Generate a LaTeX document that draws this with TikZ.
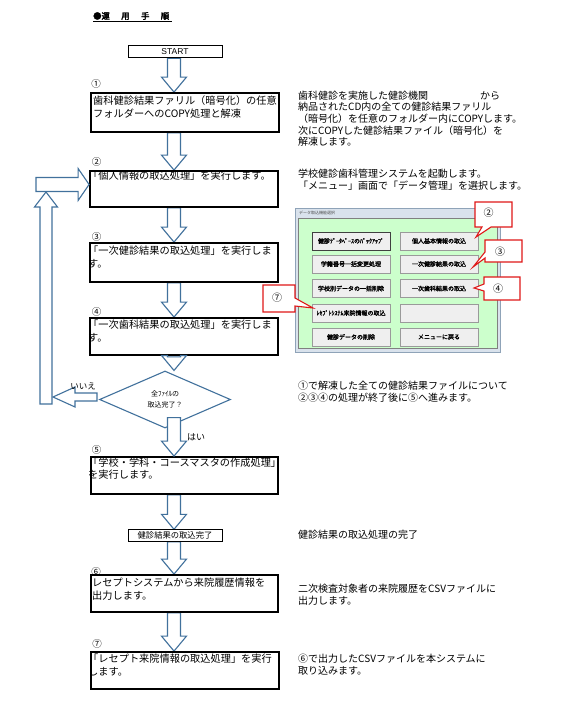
\documentclass[tikz,border=0pt]{standalone}
\usepackage{fontspec}
\setmainfont{Noto Sans CJK JP}
\newfontfamily\jpb[FakeBold=1.6]{Noto Sans CJK JP}
\newfontfamily\jpbb[FakeBold=2.6]{Noto Sans CJK JP}
\newfontfamily\arial{Liberation Sans}
\usetikzlibrary{shapes.geometric,calc}
\pgfdeclarelayer{back}\pgfdeclarelayer{bg}
\pgfsetlayers{back,bg,main}
\definecolor{arrowblue}{HTML}{41719C}
\definecolor{calred}{HTML}{E01818}
\definecolor{winbg}{HTML}{CCFFCC}
\definecolor{btnfill}{HTML}{EFEFEF}
\definecolor{btnedge}{HTML}{9A9A9A}
\definecolor{framegray}{HTML}{8FA3B8}
\definecolor{titlegray}{HTML}{D9E2EC}
\newcommand\downarr[3]{%
  \path[blk] let \p1=(#1), \p2=(#2), \p3=(#3) in
    (\x3-6.5pt,\y1) -- (\x3-6.5pt,\y2+15pt) -- (\x3-12.5pt,\y2+15pt) -- (\x3,\y2)
    -- (\x3+12.5pt,\y2+15pt) -- (\x3+6.5pt,\y2+15pt) -- (\x3+6.5pt,\y1) -- cycle;}
\begin{document}
\begin{tikzpicture}[x=1pt,y=-1pt,
  box/.style={draw, line width=1.8pt, inner sep=0pt},
  btxt/.style={anchor=north west, inner sep=0pt, align=left, font=\fontsize{10.2pt}{12.5pt}\selectfont},
  rtxt/.style={anchor=north west, inner sep=0pt, align=left, font=\fontsize{10pt}{11.7pt}\selectfont},
  num/.style={inner sep=0pt, font=\fontsize{9.5pt}{10pt}\selectfont},
  blk/.style={draw=arrowblue, fill=white, line width=1.1pt, line join=miter},
  btn/.style={draw=btnedge, fill=btnfill, line width=0.6pt, minimum width=78pt, minimum height=18pt, inner sep=0pt, font=\jpb\fontsize{6pt}{6pt}\selectfont},
  callout/.style={draw=calred, fill=white, line width=1.1pt, line join=miter},
  small/.style={draw, line width=0.9pt, inner sep=0pt}]
\begin{pgfonlayer}{back}\fill[white] (0,0) rectangle (563,704);\end{pgfonlayer}
\useasboundingbox (0,0) rectangle (563,704);

% title
\node[anchor=west, inner sep=0pt, font=\jpbb\fontsize{8.3pt}{8.3pt}\selectfont] (title) at (93,16)
  {●運\hspace{11.5pt}用\hspace{11.5pt}手\hspace{11.5pt}順};
\draw[line width=0.9pt] ($(title.south west)+(0,1.5)$) -- ($(title.south east)+(3,1.5)$);

% start
\node[small, line width=1pt, minimum width=94pt, minimum height=12.5pt, font=\arial\fontsize{8.5pt}{8.5pt}\selectfont] (start) at (175,51.5) {START};

% boxes
\node[box, minimum width=188pt, minimum height=39pt] (b1) at (185,112.5) {};
\node[box, minimum width=188pt, minimum height=36pt] (b2) at (184,189) {};
\node[box, minimum width=188pt, minimum height=39pt] (b3) at (184,262.5) {};
\node[box, minimum width=188pt, minimum height=37pt] (b4) at (184,336.5) {};
\node[box, minimum width=187pt, minimum height=37pt] (b5) at (184.5,475.5) {};
\node[small, minimum width=94pt, minimum height=11.5pt, font=\fontsize{8.3pt}{8.3pt}\selectfont] (kbox) at (175,535.5) {健診結果の取込完了};
\node[box, minimum width=187pt, minimum height=37pt] (b6) at (184.5,593.5) {};
\node[box, minimum width=188pt, minimum height=37pt] (b7) at (185,670.5) {};

% numbers
\node[num] (n1) at (96,84) {①};
\node[num] (n2) at (96.5,162) {②};
\node[num] (n3) at (96.5,237) {③};
\node[num] (n4) at (96.5,312) {④};
\node[num] (n5) at (96.5,450) {⑤};
\node[num] (n6) at (96,572) {⑥};
\node[num] (n7) at (97,644) {⑦};

% box texts
\node[btxt] (t1) at (93,96) {歯科健診結果ファリル（暗号化）の任意\\フォルダーへのCOPY処理と解凍};
\node[btxt] (t2) at (88,171) {「個人情報の取込処理」を実行します。};
\node[btxt] (t3) at (88,246) {「一次健診結果の取込処理」を実行しま\\す。};
\node[btxt] (t4) at (88,320) {「一次歯科結果の取込処理」を実行しま\\す。};
\node[btxt] (t5) at (88,457.5) {「学校・学科・コースマスタの作成処理」\\を実行します。};
\node[btxt] (t6) at (92,578) {レセプトシステムから来院履歴情報を\\出力します。};
\node[btxt] (t7) at (88,654) {「レセプト来院情報の取込処理」を実行\\します。};

% right texts
\node[rtxt] (r1) at (298,90.5) {歯科健診を実施した健診機関\hspace{52pt}から\\納品されたCD内の全ての健診結果ファリル\\（暗号化）を任意のフォルダー内にCOPYします。\\次にCOPYした健診結果ファイル（暗号化）を\\解凍します。};
\node[rtxt, font=\fontsize{10pt}{12.3pt}\selectfont] (r2) at (298,169) {学校健診歯科管理システムを起動します。\\「メニュー」画面で「データ管理」を選択します。};
\node[rtxt] (r3) at (298,381) {①で解凍した全ての健診結果ファイルについて\\②③④の処理が終了後に⑤へ進みます。};
\node[rtxt] (r4) at (298,530) {健診結果の取込処理の完了};
\node[rtxt] (r5) at (298,584) {二次検査対象者の来院履歴をCSVファイルに\\出力します。};
\node[rtxt] (r6) at (298,654) {⑥で出力したCSVファイルを本システムに\\取り込みます。};

% decision
\node[diamond, draw=arrowblue, line width=1.1pt, minimum width=131pt, minimum height=57pt, inner sep=0pt, align=center, font=\fontsize{7pt}{11pt}\selectfont] (dia) at (165,399.5) {全ﾌｧｲﾙの\\取込完了？};

% arrow column and loop coordinates
\coordinate (col) at (174,0);
\coordinate (ltip) at (53,397);
\coordinate (ubot) at (46,404);
\coordinate (utop) at (46,192);
\coordinate (rstart) at (36,184.5);

\begin{pgfonlayer}{bg}
\downarr{start.south}{b1.north}{col}
\downarr{b1.south}{b2.north}{col}
\downarr{b2.south}{b3.north}{col}
\downarr{b3.south}{b4.north}{col}
\downarr{b5.south}{kbox.north}{col}
\downarr{kbox.south}{b6.north}{col}
\downarr{b6.south}{b7.north}{col}
\end{pgfonlayer}
\downarr{$(b4.south)+(0,1)$}{dia.north}{col}
\downarr{$(dia.south)+(0,-11)$}{b5.north}{col}

% loop back arrows
\path[blk] let \p1=(ubot), \p2=(utop) in
  (\x2-6pt,\y1) -- (\x2-6pt,\y2-15pt) -- (\x2-11.5pt,\y2-15pt) -- (\x2,\y2)
  -- (\x2+11.5pt,\y2-15pt) -- (\x2+6pt,\y2-15pt) -- (\x2+6pt,\y1) -- cycle;
\path[blk] let \p1=(rstart), \p2=(b2.west) in
  (\x1,\y1+7pt) -- (\x2-11pt,\y1+7pt) -- (\x2-11pt,\y1+16pt) -- (\x2,\y1)
  -- (\x2-11pt,\y1-16pt) -- (\x2-11pt,\y1-7pt) -- (\x1,\y1-7pt) -- cycle;
\path[blk] let \p1=($(dia.west)+(-2,0)$), \p2=(ltip) in
  (\x1,\y2+4pt) -- (\x2+22pt,\y2+4pt) -- (\x2+22pt,\y2+10pt) -- (\x2,\y2)
  -- (\x2+22pt,\y2-10pt) -- (\x2+22pt,\y2-4pt) -- (\x1,\y2-4pt) -- cycle;
\node[inner sep=0pt, font=\fontsize{8.5pt}{8.5pt}\selectfont] (no) at (83,386.5) {いいえ};
\node[inner sep=0pt, font=\fontsize{9pt}{9pt}\selectfont] (yes) at (196,437.5) {はい};

% screenshot window
\node[draw=framegray, line width=0.6pt, fill=titlegray, minimum width=205pt, minimum height=144pt, inner sep=0pt] (win) at (397.5,280) {};
\node[draw=black!50, line width=0.5pt, fill=winbg, minimum width=199pt, minimum height=130pt, inner sep=0pt] (client) at (397.5,283.5) {};
\node[anchor=west, inner sep=0pt, text=black!70, font=\fontsize{4pt}{4pt}\selectfont] (wtitle) at (299,213) {データ取込機能選択};
\node[btn, draw=black!75, line width=0.9pt] (k1) at (351,241) {健診ﾃﾞｰﾀﾍﾞｰｽのﾊﾞｯｸｱｯﾌﾟ};
\node[btn] (k2) at (351,264) {学籍番号一括変更処理};
\node[btn] (k3) at (351,288.5) {学校別データの一括削除};
\node[btn] (k4) at (351,313) {ﾚｾﾌﾟﾄｼｽﾃﾑ来院情報の取込};
\node[btn] (k5) at (351,337) {健診データの削除};
\node[btn] (m1) at (439,241) {個人基本情報の取込};
\node[btn] (m2) at (439,264) {一次健診結果の取込};
\node[btn] (m3) at (439,288.5) {一次歯科結果の取込};
\node[btn] (m4) at (439,313) {};
\node[btn] (m5) at (439,337) {メニューに戻る};

% callouts
\draw[callout] (475,202) -- (512,202) -- (512,227) -- (491,227) -- (476,237) -- (482,227) -- (475,227) -- cycle;
\draw[callout] (485,240) -- (522,240) -- (522,262) -- (485,262) -- (485,258) -- (473,267) -- (485,252) -- cycle;
\draw[callout] (484,277) -- (520,277) -- (520,300) -- (484,300) -- (484,291) -- (474,288) -- (484,284) -- cycle;
\draw[callout] (263,285) -- (295,285) -- (295,298) -- (313,308) -- (295,306) -- (295,312) -- (263,312) -- cycle;
\node[num, font=\fontsize{10pt}{10pt}\selectfont] (c2) at (488.5,213) {②};
\node[num, font=\fontsize{10pt}{10pt}\selectfont] (c3) at (500,252) {③};
\node[num, font=\fontsize{10pt}{10pt}\selectfont] (c4) at (498,289) {④};
\node[num, font=\fontsize{10pt}{10pt}\selectfont] (c7) at (277,297.5) {⑦};
\end{tikzpicture}
\end{document}
